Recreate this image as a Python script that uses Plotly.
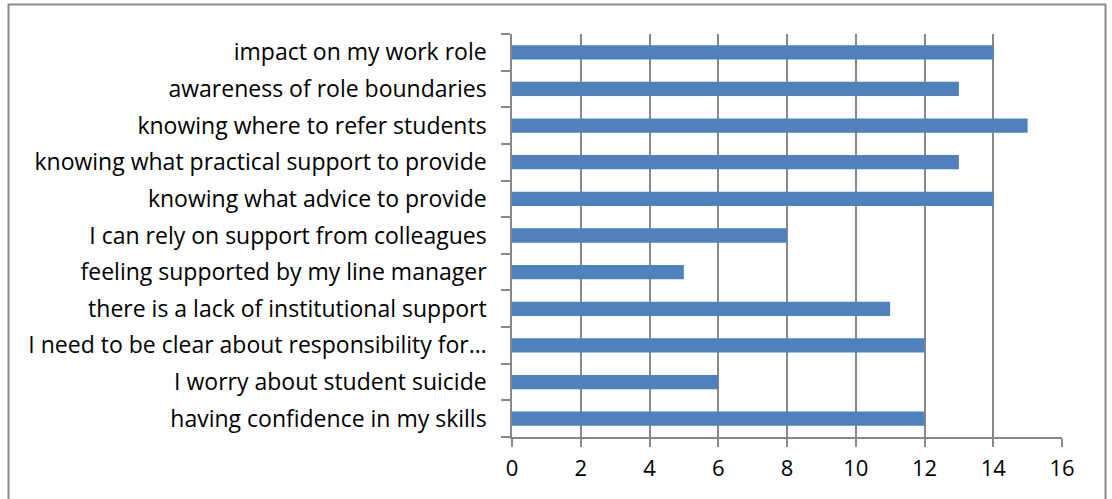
import plotly.graph_objects as go

# Survey items (top to bottom as shown) and number of respondents
categories = [
    "impact on my work role",
    "awareness of role boundaries",
    "knowing where to refer students",
    "knowing what practical support to provide",
    "knowing what advice to provide",
    "I can rely on support from colleagues",
    "feeling supported by my line manager",
    "there is a lack of institutional support",
    "I need to be clear about responsibility for…",
    "I worry about student suicide",
    "having confidence in my skills",
]
counts = [14, 13, 15, 13, 14, 8, 5, 11, 12, 6, 12]
x_ticks = [0, 2, 4, 6, 8, 10, 12, 14, 16]

W, H = 1112, 499
L, R, T, B = 512, 50, 34, 62
pw, ph = W - L - R, H - T - B

def px_x(v):
    return (v - L) / pw

def px_y(v):
    return (H - B - v) / ph

fig = go.Figure(
    go.Bar(
        x=counts,
        y=categories,
        orientation="h",
        marker=dict(color="#4F81BD", line=dict(width=0)),
    )
)

grey = "#888888"
fig.update_layout(
    width=W,
    height=H,
    margin=dict(l=L, r=R, t=T, b=B),
    paper_bgcolor="white",
    plot_bgcolor="white",
    bargap=0.61,
    showlegend=False,
    font=dict(family="Open Sans, sans-serif", size=23, color="#000000"),
    xaxis=dict(
        range=[0, 16],
        tickvals=x_ticks,
        ticktext=[str(t) for t in x_ticks],
        showgrid=True,
        gridcolor=grey,
        gridwidth=1.5,
        zeroline=False,
        showline=True,
        linecolor=grey,
        linewidth=1.5,
        ticks="outside",
        ticklen=8,
        tickwidth=1.5,
        tickcolor=grey,
        ticklabelstandoff=3,
        tickfont=dict(size=22),
    ),
    yaxis=dict(
        categoryorder="array",
        categoryarray=categories[::-1],
        autorange=True,
        showgrid=False,
        zeroline=False,
        showline=True,
        linecolor=grey,
        linewidth=1.5,
        ticks="outside",
        tickson="boundaries",
        ticklen=9,
        tickwidth=1.5,
        tickcolor=grey,
        ticklabelstandoff=19,
        tickfont=dict(size=23),
    ),
    shapes=[
        dict(
            type="rect",
            xref="paper",
            yref="paper",
            x0=px_x(8.5),
            x1=px_x(1105.5),
            y0=px_y(510),
            y1=px_y(4.5),
            line=dict(color="#8A8A8A", width=2),
            fillcolor="rgba(0,0,0,0)",
            layer="below",
        )
    ],
)

fig.write_html("out.html")
